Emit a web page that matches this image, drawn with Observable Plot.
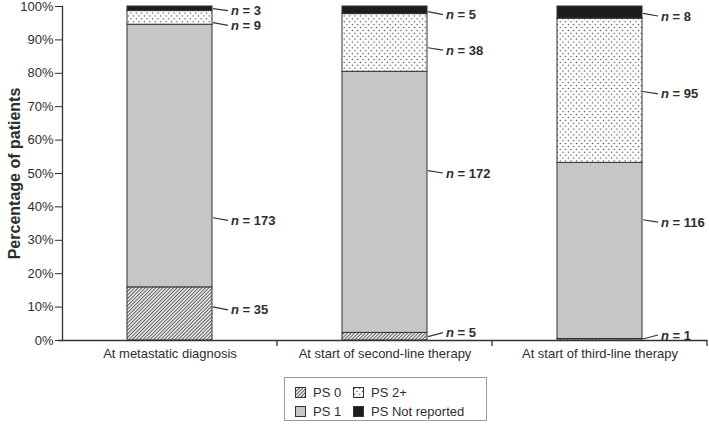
<!DOCTYPE html>
<html><head><meta charset="utf-8">
<script src="https://cdn.jsdelivr.net/npm/d3@7"></script>
<script src="https://cdn.jsdelivr.net/npm/@observablehq/plot@0.6"></script>
<style>
body{margin:0;background:#fff;font-family:"Liberation Sans",Arial,sans-serif;color:#2e2e2e}
#wrap{position:relative;width:709px;height:425px}
#legend{position:absolute;left:284px;top:377px;width:201px;height:42px;border:1px solid #9a9a9a;font-size:13px;background:#fff}
.item{position:absolute;display:flex;align-items:center;height:16px;gap:7px;white-space:nowrap}
.item svg{display:block}
</style></head><body>
<svg width="0" height="0" style="position:absolute">
<defs>
<pattern id="hatch" patternUnits="userSpaceOnUse" width="2.5" height="2.5" patternTransform="rotate(45)">
<rect width="2.5" height="2.5" fill="#fff"/><line x1="1.25" y1="0" x2="1.25" y2="2.5" stroke="#555" stroke-width="1.1"/>
</pattern>
<pattern id="dots" patternUnits="userSpaceOnUse" width="5.4" height="5.8">
<rect width="5.4" height="5.8" fill="#fff"/><circle cx="1.35" cy="1.45" r="0.75" fill="#444"/><circle cx="4.05" cy="4.35" r="0.75" fill="#444"/>
</pattern>
</defs></svg>
<div id="wrap"><div id="chart"></div><div id="legend"></div></div>
<script>
// ---- data ----
const stages = ["At metastatic diagnosis", "At start of second-line therapy", "At start of third-line therapy"];
const series = ["PS 0", "PS 1", "PS 2+", "PS Not reported"];
const ps0 = [35, 5, 1];
const ps1 = [173, 172, 116];
const ps2 = [9, 38, 95];
const psNR = [3, 5, 8];
const yTicks = [0, 10, 20, 30, 40, 50, 60, 70, 80, 90, 100];
const yLabel = "Percentage of patients";

// ---- styles ----
const seriesFills = ["url(#hatch)", "#c6c6c6", "url(#dots)", "#1d1d1d"];

// annotation placement (percent units): leader start on bar edge, label position
const annotations = [
  {stage: 0, s: 3, from: 99.2, at: 98.6},
  {stage: 0, s: 2, from: 95.0, at: 94.2},
  {stage: 0, s: 1, from: 36.6, at: 35.8},
  {stage: 0, s: 0, from: 9.9, at: 9.0},
  {stage: 1, s: 3, from: 98.3, at: 97.4},
  {stage: 1, s: 2, from: 87.5, at: 86.8},
  {stage: 1, s: 1, from: 50.7, at: 50.0},
  {stage: 1, s: 0, from: 1.0, at: 2.2},
  {stage: 2, s: 3, from: 97.8, at: 97.0},
  {stage: 2, s: 2, from: 74.4, at: 73.7},
  {stage: 2, s: 1, from: 36.0, at: 35.3},
  {stage: 2, s: 0, from: 0.3, at: 1.5}
];

const counts = [ps0, ps1, ps2, psNR];
const rows = stages.flatMap((st, i) => {
  const tot = d3.sum(counts, c => c[i]);
  return series.map((s, j) => ({stage: st, series: s, n: counts[j][i], pct: counts[j][i] / tot * 100}));
});

function annotate(index, {x, y}) {
  const g = d3.create("svg:g").attr("fill", "#2e2e2e").attr("font-size", 13).attr("font-weight", "bold")
    .attr("text-anchor", "start");
  const bw = x.bandwidth();
  const step = x(stages[1]) - x(stages[0]);
  for (const st of stages) {
    const bx = x(st) + bw + (step - bw) / 2;
    g.append("line").attr("x1", bx).attr("x2", bx).attr("y1", y(0)).attr("y2", y(0) + 6)
      .attr("stroke", "#333").attr("stroke-width", 1.3);
  }
  for (const a of annotations) {
    const x0 = x(stages[a.stage]) + bw;
    g.append("line").attr("x1", x0 + 1).attr("y1", y(a.from)).attr("x2", x0 + 16).attr("y2", y(a.at))
      .attr("stroke", "#333").attr("stroke-width", 1.2);
    const t = g.append("text").attr("x", x0 + 19).attr("y", y(a.at)).attr("dy", "0.35em");
    t.append("tspan").attr("font-style", "italic").text("n");
    t.append("tspan").text(" = " + counts[a.s][a.stage]);
  }
  return g.node();
}

const chart = Plot.plot({
  width: 709, height: 372,
  marginLeft: 62, marginRight: 2, marginTop: 6, marginBottom: 32,
  style: {fontFamily: "'Liberation Sans', Arial, sans-serif", fontSize: "13px", color: "#2e2e2e", background: "#fff"},
  x: {domain: stages, paddingInner: 0.605, paddingOuter: 0.3025, label: null},
  y: {domain: [0, 100], label: null},
  color: {domain: series, range: seriesFills},
  marks: [
    Plot.barY(rows, {x: "stage", y: "pct", fill: "series", stroke: "#333", strokeWidth: 1}),
    Plot.axisY({ticks: yTicks, tickFormat: d => d + "%", tickSize: 7, tickPadding: 2, label: null}),
    Plot.axisX({tickSize: 0, tickPadding: 8, label: null}),
    Plot.frame({anchor: "left", stroke: "#333", strokeWidth: 1.3}),
    Plot.ruleY([0], {stroke: "#333", strokeWidth: 1.3, insetLeft: -4}),
    Plot.text([yLabel], {frameAnchor: "left", textAnchor: "middle", lineAnchor: "middle", rotate: -90, dx: -48,
      fontWeight: "bold", fontSize: 16, text: d => d}),
    annotate
  ]
});
document.getElementById("chart").appendChild(chart);

// legend
const legend = d3.select("#legend");
const pos = [[10, 6], [10, 25], [68, 6], [68, 25]];
series.forEach((s, i) => {
  const it = legend.append("div").attr("class", "item").style("left", pos[i][0] + "px").style("top", pos[i][1] + "px");
  const sw = it.append("svg").attr("width", 11).attr("height", 11);
  sw.append("rect").attr("x", 0.5).attr("y", 0.5).attr("width", 10).attr("height", 10)
    .attr("fill", seriesFills[i]).attr("stroke", "#333").attr("stroke-width", 1);
  it.append("span").text(s);
});
</script>
</body></html>
